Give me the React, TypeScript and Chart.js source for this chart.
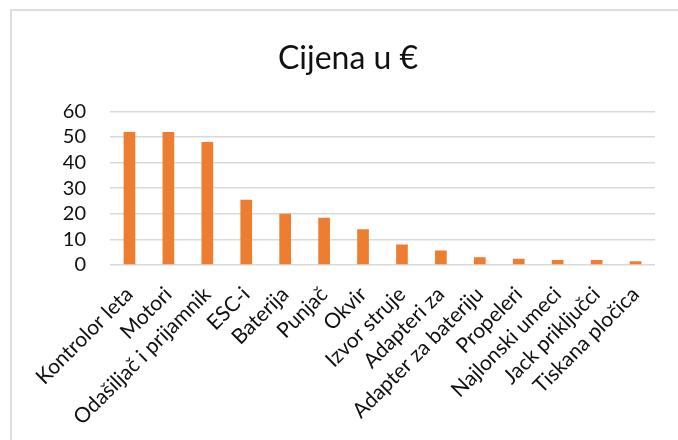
import React, { useEffect, useRef } from "react";
import { Chart, registerables } from "chart.js";

Chart.register(...registerables);

const categories: string[] = [
  "Kontrolor leta",
  "Motori",
  "Odašiljač i prijamnik",
  "ESC-i",
  "Baterija",
  "Punjač",
  "Okvir",
  "Izvor struje",
  "Adapteri za",
  "Adapter za bateriju",
  "Propeleri",
  "Najlonski umeci",
  "Jack priključci",
  "Tiskana pločica",
];

const prices: number[] = [52, 52, 48, 25.5, 20, 18.5, 14, 8, 5.7, 3, 2.4, 2, 2, 1.5];

const yTicks: number[] = [0, 10, 20, 30, 40, 50, 60];

const title = "Cijena u €";

export default function App() {
  const ref = useRef<HTMLCanvasElement | null>(null);

  useEffect(() => {
    if (!ref.current) return;
    const chart = new Chart(ref.current, {
      type: "bar",
      data: {
        labels: categories,
        datasets: [
          {
            label: title,
            data: prices,
            backgroundColor: "#ED7D31",
            borderWidth: 0,
            categoryPercentage: 1,
            barPercentage: 0.3,
          },
        ],
      },
      options: {
        animation: false,
        responsive: false,
        maintainAspectRatio: false,
        layout: { padding: { left: 41, right: 23, top: 0, bottom: 0 } },
        plugins: {
          legend: { display: false },
          tooltip: { enabled: false },
          title: {
            display: true,
            text: title,
            color: "#111",
            font: { family: "Lato", size: 32, weight: "normal" },
            padding: { top: 39, bottom: 34 },
          },
        },
        scales: {
          x: {
            grid: { display: false, drawTicks: false },
            border: { display: false },
            ticks: {
              color: "#111",
              font: { family: "Lato", size: 21 },
              minRotation: 45,
              maxRotation: 45,
              autoSkip: false,
              padding: 17,
            },
            afterFit: (s: any) => {
              s.height = 175;
            },
          },
          y: {
            min: 0,
            max: 60,
            afterBuildTicks: (s: any) => {
              s.ticks = yTicks.map((v) => ({ value: v }));
            },
            grid: { color: "#d9d9d9", lineWidth: 1.5, drawTicks: false },
            border: { display: false },
            ticks: {
              color: "#111",
              font: { family: "Lato", size: 20 },
              padding: 24,
              autoSkip: false,
            },
            afterFit: (s: any) => {
              s.width = 69;
            },
          },
        },
      },
    });
    return () => chart.destroy();
  }, []);

  return (
    <div
      style={{
        position: "absolute",
        left: 0,
        top: 0,
        width: 678,
        height: 440,
        overflow: "hidden",
        background: "#fff",
      }}
    >
      <div
        style={{
          position: "absolute",
          left: 10,
          top: 9,
          width: 720,
          height: 480,
          border: "2px solid #dedede",
        }}
      />
      <canvas
        ref={ref}
        width={678}
        height={440}
        style={{ position: "absolute", left: 0, top: 0, width: 678, height: 440 }}
      />
    </div>
  );
}
